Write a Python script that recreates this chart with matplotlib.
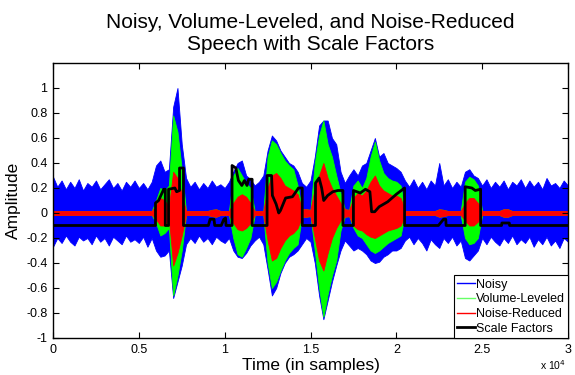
import numpy as np
import matplotlib
matplotlib.use('Agg')
import matplotlib.pyplot as plt
from matplotlib.lines import Line2D
from matplotlib.ticker import FuncFormatter

plt.rcParams['font.family'] = ['Liberation Sans', 'DejaVu Sans']

# Envelopes, one value every 250 samples (0 .. 30000)
step = 250

noisy_hi = [0.29, 0.21, 0.26, 0.19, 0.25, 0.20, 0.27, 0.18, 0.24, 0.21,
            0.26, 0.19, 0.23, 0.27, 0.20, 0.24, 0.18, 0.25, 0.21, 0.26,
            0.20, 0.24, 0.19, 0.25, 0.38, 0.42, 0.33, 0.35, 0.85, 1.00,
            0.55, 0.28, 0.21, 0.25, 0.19, 0.24, 0.20, 0.26, 0.21, 0.23,
            0.20, 0.25, 0.33, 0.40, 0.42, 0.30, 0.27, 0.22, 0.25, 0.30,
            0.50, 0.62, 0.58, 0.50, 0.45, 0.40, 0.38, 0.33, 0.24, 0.21,
            0.26, 0.45, 0.70, 0.74, 0.74, 0.60, 0.55, 0.33, 0.24, 0.30,
            0.35, 0.30, 0.38, 0.40, 0.50, 0.60, 0.45, 0.48, 0.40, 0.38,
            0.36, 0.33, 0.26, 0.21, 0.27, 0.20, 0.25, 0.19, 0.26, 0.22,
            0.40, 0.22, 0.27, 0.20, 0.25, 0.21, 0.33, 0.35, 0.30, 0.28,
            0.22, 0.27, 0.20, 0.25, 0.21, 0.26, 0.19, 0.25, 0.22, 0.27,
            0.20, 0.26, 0.21, 0.25, 0.19, 0.28, 0.22, 0.24, 0.20, 0.26,
            0.22]
noisy_lo = [-0.27, -0.20, -0.24, -0.18, -0.23, -0.26, -0.19, -0.22, -0.20, -0.25,
            -0.18, -0.23, -0.20, -0.26, -0.19, -0.22, -0.25, -0.18, -0.23, -0.21,
            -0.24, -0.19, -0.27, -0.20, -0.30, -0.35, -0.34, -0.30, -0.68, -0.55,
            -0.42, -0.25, -0.20, -0.24, -0.18, -0.23, -0.20, -0.25, -0.19, -0.22,
            -0.24, -0.20, -0.30, -0.35, -0.36, -0.32, -0.26, -0.22, -0.19, -0.25,
            -0.45, -0.66, -0.60, -0.48, -0.40, -0.35, -0.33, -0.30, -0.25, -0.20,
            -0.23, -0.40, -0.66, -0.85, -0.70, -0.55, -0.42, -0.30, -0.22, -0.26,
            -0.30, -0.28, -0.30, -0.33, -0.38, -0.40, -0.39, -0.35, -0.33, -0.30,
            -0.30, -0.28, -0.22, -0.19, -0.25, -0.20, -0.24, -0.30, -0.21, -0.25,
            -0.28, -0.20, -0.24, -0.19, -0.26, -0.22, -0.36, -0.38, -0.34, -0.30,
            -0.20, -0.25, -0.19, -0.23, -0.26, -0.20, -0.24, -0.18, -0.25, -0.21,
            -0.24, -0.19, -0.27, -0.21, -0.25, -0.19, -0.26, -0.22, -0.28, -0.20,
            -0.23]

leveled_hi = [0.016, 0.016, 0.016, 0.016, 0.016, 0.016, 0.016, 0.016, 0.016, 0.016,
              0.016, 0.016, 0.016, 0.016, 0.016, 0.016, 0.016, 0.016, 0.016, 0.016,
              0.016, 0.016, 0.016, 0.016, 0.10, 0.20, 0.18, 0.22, 0.78, 0.65,
              0.35, 0.016, 0.016, 0.016, 0.016, 0.016, 0.016, 0.025, 0.03, 0.016,
              0.016, 0.016, 0.30, 0.36, 0.30, 0.24, 0.20, 0.016, 0.016, 0.016,
              0.45, 0.58, 0.55, 0.48, 0.42, 0.38, 0.35, 0.22, 0.03, 0.03,
              0.025, 0.40, 0.62, 0.74, 0.55, 0.45, 0.30, 0.16, 0.03, 0.025,
              0.22, 0.26, 0.20, 0.28, 0.45, 0.57, 0.42, 0.32, 0.28, 0.26,
              0.25, 0.22, 0.016, 0.016, 0.016, 0.016, 0.016, 0.016, 0.016, 0.016,
              0.03, 0.025, 0.016, 0.016, 0.016, 0.016, 0.25, 0.29, 0.27, 0.22,
              0.016, 0.016, 0.016, 0.016, 0.016, 0.03, 0.03, 0.016, 0.016, 0.016,
              0.016, 0.016, 0.016, 0.016, 0.016, 0.016, 0.016, 0.016, 0.016, 0.016,
              0.016]
leveled_lo = [-0.016, -0.016, -0.016, -0.016, -0.016, -0.016, -0.016, -0.016, -0.016, -0.016,
              -0.016, -0.016, -0.016, -0.016, -0.016, -0.016, -0.016, -0.016, -0.016, -0.016,
              -0.016, -0.016, -0.016, -0.016, -0.08, -0.18, -0.16, -0.12, -0.66, -0.50,
              -0.30, -0.016, -0.016, -0.016, -0.016, -0.016, -0.016, -0.025, -0.03, -0.016,
              -0.016, -0.016, -0.20, -0.33, -0.35, -0.28, -0.20, -0.016, -0.016, -0.016,
              -0.40, -0.60, -0.55, -0.46, -0.38, -0.32, -0.28, -0.25, -0.03, -0.03,
              -0.025, -0.30, -0.60, -0.83, -0.65, -0.50, -0.38, -0.14, -0.03, -0.025,
              -0.12, -0.18, -0.20, -0.25, -0.30, -0.32, -0.30, -0.27, -0.24, -0.22,
              -0.20, -0.18, -0.016, -0.016, -0.016, -0.016, -0.016, -0.016, -0.016, -0.016,
              -0.03, -0.025, -0.016, -0.016, -0.016, -0.016, -0.20, -0.25, -0.24, -0.20,
              -0.016, -0.016, -0.016, -0.016, -0.016, -0.03, -0.03, -0.016, -0.016, -0.016,
              -0.016, -0.016, -0.016, -0.016, -0.016, -0.016, -0.016, -0.016, -0.016, -0.016,
              -0.016]

reduced_hi = [0.016, 0.016, 0.016, 0.016, 0.016, 0.016, 0.016, 0.016, 0.016, 0.016,
              0.016, 0.016, 0.016, 0.016, 0.016, 0.016, 0.016, 0.016, 0.016, 0.016,
              0.016, 0.016, 0.016, 0.016, 0.06, 0.12, 0.10, 0.05, 0.33, 0.28,
              0.15, 0.016, 0.016, 0.016, 0.016, 0.016, 0.016, 0.025, 0.03, 0.016,
              0.016, 0.016, 0.08, 0.13, 0.15, 0.13, 0.08, 0.016, 0.016, 0.016,
              0.20, 0.30, 0.32, 0.28, 0.22, 0.20, 0.18, 0.15, 0.03, 0.03,
              0.025, 0.20, 0.30, 0.40, 0.28, 0.20, 0.14, 0.08, 0.03, 0.025,
              0.12, 0.16, 0.14, 0.18, 0.25, 0.30, 0.22, 0.18, 0.16, 0.14,
              0.14, 0.12, 0.016, 0.016, 0.016, 0.016, 0.016, 0.016, 0.016, 0.016,
              0.03, 0.025, 0.016, 0.016, 0.016, 0.016, 0.08, 0.12, 0.12, 0.08,
              0.016, 0.016, 0.016, 0.016, 0.016, 0.03, 0.03, 0.016, 0.016, 0.016,
              0.016, 0.016, 0.016, 0.016, 0.016, 0.016, 0.016, 0.016, 0.016, 0.016,
              0.016]
reduced_lo = [-0.016, -0.016, -0.016, -0.016, -0.016, -0.016, -0.016, -0.016, -0.016, -0.016,
              -0.016, -0.016, -0.016, -0.016, -0.016, -0.016, -0.016, -0.016, -0.016, -0.016,
              -0.016, -0.016, -0.016, -0.016, -0.05, -0.10, -0.10, -0.04, -0.42, -0.32,
              -0.18, -0.016, -0.016, -0.016, -0.016, -0.016, -0.016, -0.025, -0.03, -0.016,
              -0.016, -0.016, -0.08, -0.13, -0.14, -0.12, -0.08, -0.016, -0.016, -0.016,
              -0.22, -0.38, -0.36, -0.28, -0.22, -0.18, -0.16, -0.12, -0.03, -0.03,
              -0.025, -0.20, -0.38, -0.46, -0.32, -0.20, -0.12, -0.06, -0.03, -0.025,
              -0.10, -0.13, -0.14, -0.17, -0.19, -0.20, -0.18, -0.16, -0.14, -0.13,
              -0.12, -0.10, -0.016, -0.016, -0.016, -0.016, -0.016, -0.016, -0.016, -0.016,
              -0.03, -0.025, -0.016, -0.016, -0.016, -0.016, -0.06, -0.10, -0.10, -0.07,
              -0.016, -0.016, -0.016, -0.016, -0.016, -0.03, -0.03, -0.016, -0.016, -0.016,
              -0.016, -0.016, -0.016, -0.016, -0.016, -0.016, -0.016, -0.016, -0.016, -0.016,
              -0.016]

# Scale factor trace (sample, value) breakpoints
scale_t = [0, 5970, 5970, 6150, 6450, 6540, 6540, 6730, 6730, 7100, 7200, 7370,
           7370, 7600, 7600, 9050, 9150, 9380, 9420, 9800, 9950, 10050, 10080,
           10430, 10430, 10650, 10800, 11000, 11150, 11300, 11400, 11600, 11600,
           12470, 12470, 12730, 12780, 13000, 13150, 13250, 13550, 13950, 14300,
           14520, 14520, 15290, 15290, 15500, 15650, 15770, 16000, 16300, 16600,
           16890, 16890, 17500, 17500, 17900, 18200, 18460, 18560, 18740, 19000,
           19500, 20000, 20480, 20480, 22450, 22750, 22880, 22900, 24010, 24010,
           24400, 24600, 24910, 24910, 26130, 26150, 26580, 26600, 30000]
scale_v = [-0.1, -0.1, 0.08, 0.10, 0.19, 0.19, -0.1, -0.1, 0.19, 0.20, 0.17, 0.18,
           0.36, 0.36, -0.1, -0.1, -0.05, -0.05, -0.1, -0.1, -0.05, -0.04, -0.1,
           -0.1, 0.38, 0.36, 0.26, 0.22, 0.26, 0.22, 0.27, 0.27, -0.1,
           -0.1, 0.30, 0.30, 0.14, 0.07, 0.00, 0.02, 0.12, 0.13, 0.20,
           0.20, -0.1, -0.1, 0.24, 0.28, 0.20, 0.10, 0.14, 0.17, 0.18,
           0.18, -0.1, -0.1, 0.18, 0.16, 0.19, 0.17, 0.01, 0.01, 0.05,
           0.09, 0.15, 0.20, -0.1, -0.1, -0.05, -0.05, -0.1, -0.1, 0.21,
           0.20, 0.18, 0.19, -0.1, -0.1, -0.08, -0.08, -0.1, -0.1]

xticks = [0, 5000, 10000, 15000, 20000, 25000, 30000]
yticks = [-1, -0.8, -0.6, -0.4, -0.2, 0, 0.2, 0.4, 0.6, 0.8, 1]

t = np.arange(len(noisy_hi)) * step

fig = plt.figure(figsize=(5.75, 3.75), dpi=100)
ax = fig.add_axes([0.0922, 0.0987, 0.8956, 0.7333])

blue = (0, 0, 1)
green = (0, 1, 0)
red = (1, 0, 0)

ax.fill_between(t, noisy_lo, noisy_hi, color=blue, lw=0.6)
ax.fill_between(t, leveled_lo, leveled_hi, color=green, lw=0.6)
ax.fill_between(t, reduced_lo, reduced_hi, color=red, lw=0.6)
ax.plot(scale_t, scale_v, color='k', lw=2)

ax.set_xlim(0, 30000)
ax.set_ylim(-1, 1.2)
ax.set_xticks(xticks)
ax.set_yticks(yticks)
ax.xaxis.set_major_formatter(FuncFormatter(lambda v, p: '%g' % (v / 1e4)))
ax.yaxis.set_major_formatter(FuncFormatter(lambda v, p: '%g' % v))
ax.tick_params(direction='in', top=True, right=True, length=4, width=0.8,
               labelsize=9, pad=4)
for s in ax.spines.values():
    s.set_linewidth(1.0)

ax.set_title('Noisy, Volume-Leveled, and Noise-Reduced\nSpeech with Scale Factors',
             fontsize=15, linespacing=1.2, pad=9)
ax.set_xlabel('Time (in samples)', fontsize=12.5, labelpad=2)
ax.set_ylabel('Amplitude', fontsize=12.5, labelpad=4)
ax.text(0.995, -0.072, r'x 10$^{4}$', transform=ax.transAxes, ha='right',
        va='top', fontsize=7.5)

handles = [Line2D([], [], color=blue, lw=1),
           Line2D([], [], color=(0.4, 1, 0.4), lw=1),
           Line2D([], [], color=red, lw=1),
           Line2D([], [], color='k', lw=2)]
labels = ['Noisy', 'Volume-Leveled', 'Noise-Reduced', 'Scale Factors']
leg = ax.legend(handles, labels, loc='lower right', fontsize=9, borderaxespad=0,
                fancybox=False, framealpha=1, edgecolor='k', handlelength=1.4,
                handletextpad=0.1, labelspacing=0.22, borderpad=0.25)
leg.get_frame().set_linewidth(0.8)

fig.savefig('out.png', dpi=100)
